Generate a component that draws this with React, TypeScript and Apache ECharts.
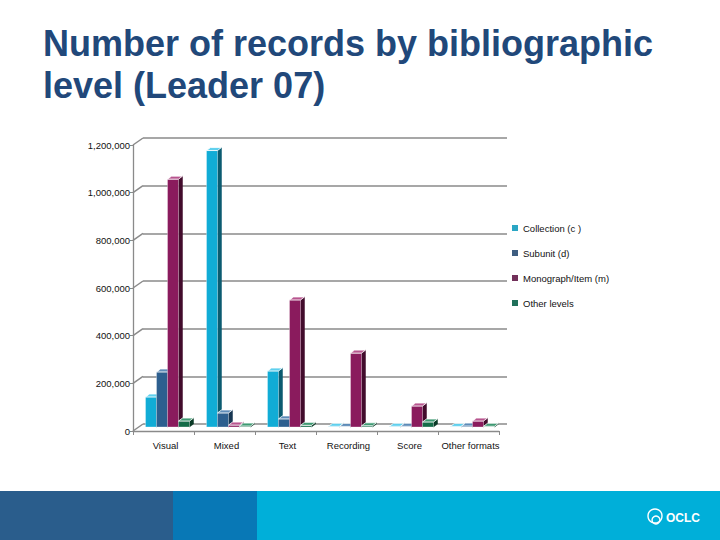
import React, { useEffect, useRef } from "react";
import * as echarts from "echarts";

const categories = ["Visual", "Mixed", "Text", "Recording", "Score", "Other formats"];
const seriesNames = ["Collection (c )", "Subunit (d)", "Monograph/Item (m)", "Other levels"];
const collection = [126000, 1160000, 235000, 3000, 3000, 2000];
const subunit = [231000, 59000, 34000, 2000, 3000, 4000];
const monograph = [1040000, 8000, 533000, 310000, 88000, 25000];
const otherLevels = [25000, 4000, 7000, 5000, 21000, 3000];
const yTicks = [0, 200000, 400000, 600000, 800000, 1000000, 1200000];

const frontColors = ["#11acd6", "#2d5f8f", "#8a1b5d", "#146c48"];
const sideColors = ["#0b5b70", "#173652", "#420c2c", "#0a3a26"];
const topColors = ["#5fd0ee", "#5d8bb8", "#b8558f", "#3f9a73"];
const legendColors = ["#2aa6c4", "#3e5d80", "#72305a", "#20705a"];

const AXIS_GRAY = "#8a8a8a";
const DX = 4;
const DY = 3;
const SHIFT_X = 4;
const SHIFT_Y = 4;
const BW = 11;

function makeBarSeries(name: string, values: number[], i: number) {
  return {
    type: "custom",
    name,
    xAxisIndex: 0,
    yAxisIndex: 0,
    itemStyle: { color: legendColors[i] },
    data: values.map((v, k) => [k, v]),
    encode: { x: 0, y: 1 },
    renderItem: (params: any, api: any) => {
      const cat = api.value(0);
      const v = api.value(1);
      const base = api.coord([cat, 0]);
      const top = api.coord([cat, v]);
      const x0 = base[0] + SHIFT_X - 2 * BW + i * BW;
      const yb = base[1] - SHIFT_Y;
      let yt = top[1] - SHIFT_Y;
      if (yb - yt < 0.6) yt = yb - 0.6;
      const h = yb - yt;
      return {
        type: "group",
        children: [
          {
            type: "polygon",
            shape: {
              points: [
                [x0 + BW, yt],
                [x0 + BW + DX, yt - DY],
                [x0 + BW + DX, yb - DY],
                [x0 + BW, yb],
              ],
            },
            style: { fill: sideColors[i], stroke: sideColors[i], lineWidth: 0.5 },
          },
          {
            type: "rect",
            shape: { x: x0, y: yt, width: BW, height: h },
            style: { fill: frontColors[i], stroke: "rgba(255,255,255,0.55)", lineWidth: 0.6 },
          },
          {
            type: "polygon",
            shape: {
              points: [
                [x0, yt],
                [x0 + DX, yt - DY],
                [x0 + BW + DX, yt - DY],
                [x0 + BW, yt],
              ],
            },
            style: { fill: topColors[i], stroke: "#ffffff", lineWidth: 0.8 },
          },
        ],
      };
    },
  };
}

export default function App() {
  const ref = useRef<HTMLDivElement>(null);
  useEffect(() => {
    if (!ref.current) return;
    const chart = echarts.init(ref.current, null, { renderer: "svg" });
    const option: any = {
      animation: false,
      backgroundColor: "#ffffff",
      textStyle: { fontFamily: "Liberation Sans, Arial, sans-serif" },
      grid: [
        { left: 133, right: 221, top: 145, bottom: 109 },
        { left: 143, right: 213, top: 138, bottom: 116 },
      ],
      xAxis: [
        {
          type: "category",
          gridIndex: 0,
          data: categories,
          axisLine: { show: true, lineStyle: { color: AXIS_GRAY, width: 1.3 } },
          axisTick: { show: true, length: 4, interval: 0, lineStyle: { color: AXIS_GRAY } },
          axisLabel: { color: "#111", fontSize: 9.5, margin: 9, interval: 0, padding: [0, 0, 0, 4] },
        },
        { type: "value", gridIndex: 1, min: 0, max: 1, show: false },
      ],
      yAxis: [
        {
          type: "value",
          gridIndex: 0,
          min: 0,
          max: 1200000,
          interval: 200000,
          axisLine: { show: true, lineStyle: { color: AXIS_GRAY, width: 1.3 } },
          axisTick: { show: true, length: 3, lineStyle: { color: AXIS_GRAY } },
          splitLine: { show: false },
          axisLabel: {
            color: "#111",
            fontSize: 9.5,
            margin: 3,
            formatter: (v: number) => v.toLocaleString("en-US"),
          },
        },
        {
          type: "value",
          gridIndex: 1,
          min: 0,
          max: 1200000,
          interval: 200000,
          axisLine: { show: false },
          axisTick: { show: false },
          axisLabel: { show: false },
          splitLine: { show: true, lineStyle: { color: AXIS_GRAY, width: 1.5 } },
        },
      ],
      legend: {
        orient: "vertical",
        left: 507,
        top: 218,
        itemWidth: 6,
        itemHeight: 6,
        itemGap: 15,
        icon: "rect",
        data: seriesNames,
        textStyle: { color: "#111", fontSize: 9.5, fontFamily: "Liberation Sans, Arial, sans-serif" },
        selectedMode: false,
      },
      graphic: [
        {
          type: "text",
          left: 43,
          top: 22,
          style: {
            text: "Number of records by bibliographic\nlevel (Leader 07)",
            font: "bold 36px 'Liberation Sans', Arial, sans-serif",
            fill: "#21487a",
            lineHeight: 42,
          },
        },
        { type: "rect", shape: { x: 0, y: 491, width: 173, height: 49 }, style: { fill: "#2a5d8c" } },
        { type: "rect", shape: { x: 173, y: 491, width: 84, height: 49 }, style: { fill: "#0878b6" } },
        { type: "rect", shape: { x: 257, y: 491, width: 463, height: 49 }, style: { fill: "#00afd9" } },
        {
          type: "circle",
          shape: { cx: 655, cy: 516, r: 7 },
          style: { fill: "none", stroke: "#ffffff", lineWidth: 1.4 },
        },
        {
          type: "circle",
          shape: { cx: 656, cy: 520, r: 4 },
          style: { fill: "none", stroke: "#ffffff", lineWidth: 1.4 },
        },
        {
          type: "text",
          left: 666,
          top: 512,
          style: {
            text: "OCLC",
            font: "bold 12px 'Liberation Sans', Arial, sans-serif",
            fill: "#ffffff",
          },
        },
      ],
      series: [
        {
          type: "custom",
          name: "backDiagonals",
          xAxisIndex: 1,
          yAxisIndex: 1,
          silent: true,
          data: yTicks.map((t) => [0, t]),
          encode: { x: 0, y: 1 },
          renderItem: (params: any, api: any) => {
            const p = api.coord([0, api.value(1)]);
            return {
              type: "line",
              shape: { x1: p[0] - 10, y1: p[1] + 7, x2: p[0], y2: p[1] },
              style: { stroke: AXIS_GRAY, lineWidth: 1.5 },
            };
          },
        },
        makeBarSeries(seriesNames[0], collection, 0),
        makeBarSeries(seriesNames[1], subunit, 1),
        makeBarSeries(seriesNames[2], monograph, 2),
        makeBarSeries(seriesNames[3], otherLevels, 3),
      ],
    };
    chart.setOption(option);
    return () => chart.dispose();
  }, []);
  return (
    <div
      ref={ref}
      style={{ position: "fixed", left: 0, top: 0, width: 720, height: 540, background: "#fff" }}
    />
  );
}
